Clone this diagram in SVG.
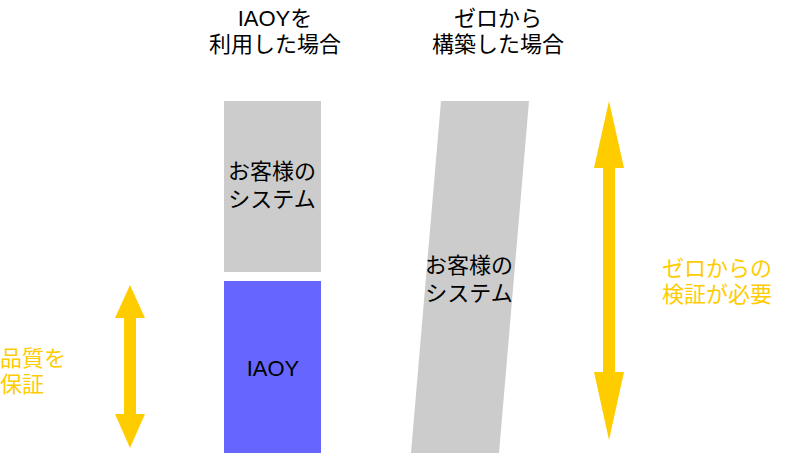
<svg xmlns="http://www.w3.org/2000/svg" width="788" height="453" viewBox="0 0 788 453">
<style>
text{font-family:"Liberation Sans","Noto Sans CJK JP",sans-serif;font-size:22px;fill:#000}
.y{fill:#ffcc00}
.arr{fill:#ffcc00}
</style>
<rect width="788" height="453" fill="#fff"/>
<g id="header1"><text x="275" y="26" text-anchor="middle">IAOYを</text><text x="275" y="52" text-anchor="middle">利用した場合</text></g>
<g id="header2"><text x="498" y="26" text-anchor="middle">ゼロから</text><text x="498" y="52" text-anchor="middle">構築した場合</text></g>
<g id="system1"><rect x="224" y="101" width="97" height="171" fill="#cccccc"/><text x="272" y="179" text-anchor="middle">お客様の</text><text x="272" y="207" text-anchor="middle">システム</text></g>
<g id="iaoy"><rect x="224" y="281" width="97" height="172" fill="#6666ff"/><text x="273" y="376" text-anchor="middle">IAOY</text></g>
<g id="system2"><polygon points="441,101 529,101 499,453 411,453" fill="#cccccc"/><text x="469" y="273" text-anchor="middle">お客様の</text><text x="469" y="301" text-anchor="middle">システム</text></g>
<g id="connectors">
<polygon class="arr" points="130,285 145,318 136,318 136,414 145,414 130,448 115,414 124,414 124,318 115,318"/>
<polygon class="arr" points="609,101 624,168 615,168 615,372 624,372 609,440 594,372 603,372 603,168 594,168"/>
</g>
<g id="label1"><text class="y" x="0" y="366">品質を</text><text class="y" x="0" y="392">保証</text></g>
<g id="label2"><text class="y" x="662" y="276">ゼロからの</text><text class="y" x="662" y="302">検証が必要</text></g>
</svg>
